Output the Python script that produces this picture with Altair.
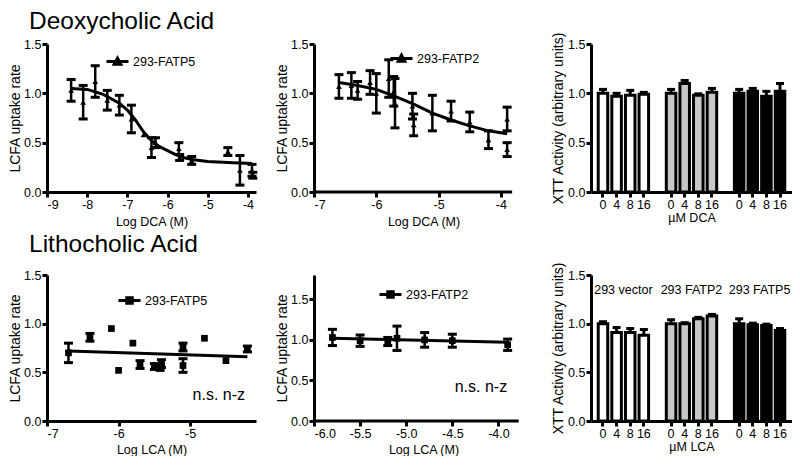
import altair as alt
import pandas as pd

FONT = "Liberation Sans"

# ---------------- Deoxycholic acid, 293-FATP5 ----------------
dca5_logc = [-8.4, -8.1, -7.8, -7.5, -7.2, -6.9, -6.6, -6.4, -6.3, -5.72, -5.7, -5.4, -4.5, -4.2, -3.9, -3.88]
dca5_rate = [1.03, 0.91, 1.12, 0.93, 0.88, 0.74, 0.58, 0.45, 0.50, 0.44, 0.35, 0.32, 0.41, 0.22, 0.22, 0.17]
dca5_sem = [0.11, 0.17, 0.16, 0.10, 0.10, 0.14, 0.00, 0.10, 0.05, 0.06, 0.03, 0.04, 0.04, 0.15, 0.06, 0.03]
dca5_fit_logc = [-8.4, -8.0, -7.6, -7.2, -7.0, -6.8, -6.6, -6.4, -6.2, -6.0, -5.8, -5.6, -5.4, -5.0, -4.5, -3.9]
dca5_fit_rate = [1.05, 1.04, 0.99, 0.90, 0.83, 0.73, 0.61, 0.52, 0.46, 0.42, 0.38, 0.35, 0.33, 0.31, 0.30, 0.29]

# ---------------- Deoxycholic acid, 293-FATP2 ----------------
dca2_logc = [-6.6, -6.4, -6.3, -6.1, -6.0, -5.8, -5.72, -5.7, -5.42, -5.4, -5.1, -4.8, -4.5, -4.2, -3.9, -3.9]
dca2_rate = [1.07, 1.08, 1.03, 1.11, 1.00, 1.15, 1.02, 0.90, 0.87, 0.68, 0.80, 0.82, 0.71, 0.53, 0.74, 0.43]
dca2_sem = [0.12, 0.13, 0.09, 0.12, 0.20, 0.19, 0.15, 0.25, 0.13, 0.11, 0.18, 0.10, 0.10, 0.09, 0.12, 0.07]
dca2_fit_logc = [-6.6, -6.3, -6.0, -5.7, -5.4, -5.1, -4.8, -4.5, -4.2, -3.9]
dca2_fit_rate = [1.11, 1.08, 1.04, 0.97, 0.89, 0.80, 0.73, 0.67, 0.62, 0.59]

# ---------------- Lithocholic acid, 293-FATP5 ----------------
lca5_logc = [-6.7, -6.4, -6.1, -6.0, -5.8, -5.7, -5.5, -5.42, -5.4, -5.1, -5.1, -4.8, -4.5, -4.2]
lca5_rate = [0.70, 0.86, 0.95, 0.52, 0.80, 0.58, 0.56, 0.55, 0.59, 0.76, 0.57, 0.85, 0.62, 0.74]
lca5_sem = [0.10, 0.04, 0.00, 0.00, 0.00, 0.04, 0.03, 0.03, 0.04, 0.04, 0.07, 0.00, 0.00, 0.03]
lca5_fit_logc = [-6.7, -4.2]
lca5_fit_rate = [0.72, 0.66]

# ---------------- Lithocholic acid, 293-FATP2 ----------------
lca2_logc = [-5.8, -5.5, -5.2, -5.1, -4.8, -4.5, -3.9]
lca2_rate = [1.03, 0.99, 0.98, 1.02, 1.00, 0.99, 0.94]
lca2_sem = [0.10, 0.07, 0.05, 0.15, 0.09, 0.08, 0.07]
lca2_fit_logc = [-5.8, -3.9]
lca2_fit_rate = [1.02, 0.97]

# ---------------- XTT viability bars ----------------
cell_lines = ["293 vector", "293 FATP2", "293 FATP5"]
doses = ["0", "4", "8", "16"]
dca_xtt = [1.00, 0.97, 0.98, 0.99, 1.00, 1.10, 0.98, 1.01, 1.00, 1.02, 0.97, 1.02]
dca_xtt_sem = [0.04, 0.03, 0.05, 0.02, 0.04, 0.03, 0.015, 0.04, 0.04, 0.03, 0.05, 0.08]
lca_xtt = [1.00, 0.91, 0.91, 0.88, 1.00, 1.00, 1.05, 1.08, 1.00, 0.99, 0.98, 0.93]
lca_xtt_sem = [0.02, 0.05, 0.04, 0.06, 0.04, 0.01, 0.015, 0.015, 0.05, 0.015, 0.015, 0.02]

TRI_LEGEND = "M-1,0L1,0M-0.3,0.25L0,-0.3L0.3,0.25Z"
SQ_LEGEND = "M-1,0L1,0M-0.25,-0.25L0.25,-0.25L0.25,0.25L-0.25,0.25Z"

LABEL_FS = 12.5
XTITLE_FS = 12.5
YTITLE_FS = 14


def minus_expr(fmt):
    return ("datum.value < 0 ? '-' + format(-datum.value, '%s') : format(datum.value, '%s')" % (fmt, fmt))


def line_panel(name, logc, rate, sem, fit_logc, fit_rate, *, xdomain, xticks, xfmt,
               ydomain, width, height, xtitle, shape, size, legend_path,
               legend_x, legend_y, domain_end=None, note=None, title=None, xtitle_pad=5):
    pts = pd.DataFrame({"logc": logc, "rate": rate, "sem": sem})
    pts["lo"] = pts["rate"] - pts["sem"]
    pts["hi"] = pts["rate"] + pts["sem"]
    pts["series"] = name
    errs = pts[pts["sem"] > 0]
    fit = pd.DataFrame({"logc": fit_logc, "rate": fit_rate})

    x_axis = alt.Axis(values=xticks, labelExpr=minus_expr(xfmt), title=xtitle,
                      domain=domain_end is None, titlePadding=xtitle_pad, titleFontSize=XTITLE_FS)
    y_axis = alt.Axis(values=[0, 0.5, 1.0, 1.5], format=".1f", title="LCFA uptake rate",
                      titleFontSize=YTITLE_FS, titlePadding=1)
    xs = alt.Scale(domain=xdomain, nice=False, zero=False)
    ys = alt.Scale(domain=ydomain, nice=False, zero=False)

    def X(f):
        return alt.X(f, type="quantitative", scale=xs, axis=x_axis)

    def Y(f):
        return alt.Y(f, type="quantitative", scale=ys, axis=y_axis)

    layers = []
    if domain_end is not None:
        dom = pd.DataFrame({"logc": [xdomain[0]], "logc_end": [domain_end], "rate": [0.0]})
        layers.append(alt.Chart(dom).mark_rule(color="black", strokeWidth=3, opacity=1).encode(
            x=X("logc"), x2=alt.X2("logc_end"), y=Y("rate")))
    layers.append(alt.Chart(fit).mark_line(color="black", strokeWidth=3, opacity=1).encode(
        x=X("logc"), y=Y("rate")))
    eb = alt.Chart(errs)
    layers.append(eb.mark_rule(color="black", strokeWidth=2.5, opacity=1).encode(
        x=X("logc"), y=Y("lo"), y2=alt.Y2("hi")))
    for f in ("lo", "hi"):
        layers.append(eb.mark_tick(orient="horizontal", color="black", size=9, thickness=3,
                                   opacity=1).encode(x=X("logc"), y=Y(f)))
    layers.append(alt.Chart(pts).mark_point(filled=True, shape=shape, size=size, opacity=1).encode(
        x=X("logc"), y=Y("rate"),
        color=alt.Color("series:N", scale=alt.Scale(range=["black"]),
                        legend=alt.Legend(orient="none", legendX=legend_x, legendY=legend_y,
                                          title=None, symbolType=legend_path, symbolSize=484,
                                          symbolStrokeWidth=3, symbolStrokeColor="black",
                                          symbolFillColor="black", labelFontSize=12.5,
                                          labelFont=FONT, labelColor="black", labelOffset=3,
                                          padding=0))))
    if note is not None:
        nd = pd.DataFrame({"logc": [note[0]], "rate": [note[1]], "txt": [note[2]]})
        layers.append(alt.Chart(nd).mark_text(font=FONT, fontSize=16, color="black",
                                              align="center", baseline="middle").encode(
            x=X("logc"), y=Y("rate"), text="txt:N"))
    props = dict(width=width, height=height)
    if title is not None:
        props["title"] = title
    return alt.layer(*layers).properties(**props)


def bar_panel(values, sems, xtitle, width, height, show_groups):
    keys, domain_keys, grp, dose = [], [], [], []
    for gi, g in enumerate(cell_lines):
        if gi > 0:
            domain_keys.append("gap%d" % gi)
        for d in doses:
            k = "%s|%s" % (g, d)
            keys.append(k)
            domain_keys.append(k)
            grp.append(g)
            dose.append(d)
    df = pd.DataFrame({"key": keys, "group": grp, "dose": dose, "xtt": values, "sem": sems})
    df["hi"] = df["xtt"] + df["sem"]

    xs = alt.Scale(domain=domain_keys, paddingInner=0.3, paddingOuter=0.53)
    x_axis = alt.Axis(values=keys, labelExpr="split(datum.value, '|')[1]", labelAngle=0,
                      title=xtitle, titlePadding=1, titleFontSize=XTITLE_FS)
    ys = alt.Scale(domain=[0, 1.5], nice=False)
    y_axis = alt.Axis(values=[0, 0.5, 1.0, 1.5], format=".1f", title="XTT Activity (arbitrary units)",
                      titleFontSize=YTITLE_FS, titlePadding=2)

    def X(f, **kw):
        return alt.X(f, type="nominal", scale=xs, axis=x_axis, sort=None, **kw)

    def Y(f):
        return alt.Y(f, type="quantitative", scale=ys, axis=y_axis)

    base = alt.Chart(df)
    layers = [
        base.mark_rule(color="black", strokeWidth=3, opacity=1).encode(x=X("key"), y=Y("xtt"), y2=alt.Y2("hi")),
        base.mark_tick(orient="horizontal", color="black", size=8, thickness=3, opacity=1).encode(
            x=X("key"), y=Y("hi")),
        base.mark_bar(stroke="black", strokeWidth=3, opacity=1).encode(
            x=X("key"), y=Y("xtt"),
            fill=alt.Fill("group:N", scale=alt.Scale(domain=cell_lines, range=["white", "#c8c8c8", "black"]),
                          legend=None)),
    ]
    if show_groups:
        lab = pd.DataFrame({"key": ["%s|4" % g for g in cell_lines], "xtt": [1.35] * 3, "txt": cell_lines})
        layers.append(alt.Chart(lab).mark_text(font=FONT, fontSize=12.5, color="black", align="center",
                                               baseline="middle", dx=2).encode(
            x=X("key", bandPosition=1), y=Y("xtt"), text="txt:N"))
    return alt.layer(*layers).properties(width=width, height=height)


def row_title(text, offset):
    return alt.TitleParams(text=text, anchor="start", frame="group", fontSize=24.5, font=FONT,
                           fontWeight="normal", color="black", dx=-18, offset=offset)


H1, H2 = 148, 146
W1, W2, W3 = 209, 219, 201

p1 = line_panel("293-FATP5", dca5_logc, dca5_rate, dca5_sem, dca5_fit_logc, dca5_fit_rate,
                xdomain=[-9, -3.8], xticks=[-9, -8, -7, -6, -5, -4], xfmt=".0f",
                ydomain=[0, 1.5], width=W1, height=H1, xtitle="Log DCA (M)",
                shape="triangle-up", size=32, legend_path=TRI_LEGEND, legend_x=58, legend_y=5,
                title=row_title("Deoxycholic Acid", 4))
p2 = line_panel("293-FATP2", dca2_logc, dca2_rate, dca2_sem, dca2_fit_logc, dca2_fit_rate,
                xdomain=[-7, -3.485], xticks=[-7, -6, -5, -4], xfmt=".0f",
                ydomain=[0, 1.5], width=W2, height=H1, xtitle="Log DCA (M)",
                shape="triangle-up", size=32, legend_path=TRI_LEGEND, legend_x=75, legend_y=2,
                domain_end=-3.82)
p3 = bar_panel(dca_xtt, dca_xtt_sem, "µM DCA", W3, H1, False)
p4 = line_panel("293-FATP5", lca5_logc, lca5_rate, lca5_sem, lca5_fit_logc, lca5_fit_rate,
                xdomain=[-7, -4.08], xticks=[-7, -6, -5], xfmt=".0f",
                ydomain=[0, 1.5], width=W1, height=H2, xtitle="Log LCA (M)",
                shape="square", size=45, legend_path=SQ_LEGEND, legend_x=70, legend_y=13,
                note=(-4.6, 0.27, "n.s. n-z"), title=row_title("Lithocholic Acid", 12), xtitle_pad=4)
p5 = line_panel("293-FATP2", lca2_logc, lca2_rate, lca2_sem, lca2_fit_logc, lca2_fit_rate,
                xdomain=[-6, -3.625], xticks=[-6.0, -5.5, -5.0, -4.5, -4.0], xfmt=".1f",
                ydomain=[0, 1.8], width=W2, height=H2, xtitle="Log LCA (M)",
                shape="square", size=45, legend_path=SQ_LEGEND, legend_x=64, legend_y=7,
                domain_end=-3.78, note=(-4.19, 0.42, "n.s. n-z"), xtitle_pad=4)
p6 = bar_panel(lca_xtt, lca_xtt_sem, "µM LCA", W3, H2, True)

chart = alt.concat(p1, p2, p3, p4, p5, p6, columns=3, spacing={"row": 83, "column": 58},
                   bounds="flush", align="each").resolve_scale(
    x="independent", y="independent", color="independent", fill="independent"
).resolve_legend(color="independent").properties(
    padding={"left": 0, "top": 0, "right": 0, "bottom": 0}
).configure(font=FONT).configure_view(stroke=None).configure_axis(
    domainColor="black", domainWidth=3, tickColor="black", tickWidth=3, tickSize=5,
    labelFont=FONT, labelFontSize=LABEL_FS, labelColor="black", labelPadding=1,
    titleFont=FONT, titleFontWeight="normal", titleColor="black",
    titlePadding=4, grid=False
)

chart.save("out.html", embed_options={"renderer": "svg", "actions": False})
